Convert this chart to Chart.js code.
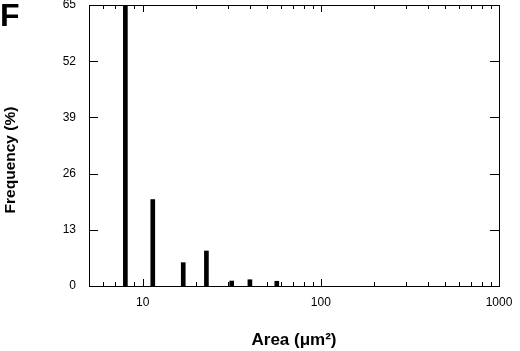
<!DOCTYPE html>
<html lang="en">
<head>
    <meta charset="UTF-8">
    <title>Area distribution</title>
    <script src="https://cdn.jsdelivr.net/npm/chart.js@4/dist/chart.umd.min.js"></script>
    <style>
        html, body { margin: 0; padding: 0; background: #fff; }
        #wrap { width: 520px; height: 351px; position: relative; }
    </style>
</head>
<body>
    <div id="wrap"><canvas id="chart"></canvas></div>
    <script>
        // bin centres (um^2) and frequency (%)
        const areas = [8, 11.4, 16.9, 22.8, 31.6, 40, 56.6];
        const freqs = [65, 20, 5.4, 8.1, 1.15, 1.45, 1.1];
        const yTicks = [0, 13, 26, 39, 52, 65];
        const xMajor = [10, 100, 1000];
        const xMinor = [6, 7, 8, 9, 20, 30, 40, 50, 60, 70, 80, 90, 200, 300, 400, 500, 600, 700, 800, 900];

        const font = '"Liberation Sans", Arial, sans-serif';

        // frame + inward tick marks on all four sides, panel letter, y title
        const framePlugin = {
            id: 'frame',
            afterDraw(chart) {
                const { ctx, chartArea: a, scales } = chart;
                ctx.save();
                ctx.strokeStyle = '#000';
                ctx.lineWidth = 1;
                ctx.strokeRect(a.left + 0.5, a.top + 0.5, a.right - a.left, a.bottom - a.top);
                ctx.beginPath();
                const xt = (v, len) => {
                    const px = Math.round(scales.x.getPixelForValue(v)) + 0.5;
                    ctx.moveTo(px, a.bottom); ctx.lineTo(px, a.bottom - len);
                    ctx.moveTo(px, a.top); ctx.lineTo(px, a.top + len);
                };
                xMajor.forEach(v => xt(v, 7));
                xMinor.forEach(v => xt(v, 4));
                yTicks.slice(1, -1).forEach(v => {
                    const py = Math.round(scales.y.getPixelForValue(v)) + 0.5;
                    ctx.moveTo(a.left, py); ctx.lineTo(a.left + 9, py);
                    ctx.moveTo(a.right, py); ctx.lineTo(a.right - 9, py);
                });
                ctx.stroke();

                ctx.fillStyle = '#000';
                ctx.font = 'bold 32px ' + font;
                ctx.textBaseline = 'top';
                ctx.fillText('F', 0, 1);

                ctx.translate(11, 160);
                ctx.rotate(-Math.PI / 2);
                ctx.font = 'bold 15.5px ' + font;
                ctx.textAlign = 'center';
                ctx.textBaseline = 'middle';
                ctx.fillText('Frequency (%)', 0, 0);
                ctx.restore();
            }
        };

        new Chart(document.getElementById('chart'), {
            type: 'bar',
            data: {
                datasets: [{
                    data: areas.map((a, i) => ({ x: a, y: freqs[i] })),
                    backgroundColor: '#000',
                    barThickness: 4
                }]
            },
            options: {
                responsive: true,
                maintainAspectRatio: false,
                animation: false,
                layout: { padding: { top: 5, right: 21, left: 0, bottom: 0 } },
                plugins: { legend: { display: false }, tooltip: { enabled: false } },
                scales: {
                    x: {
                        type: 'logarithmic',
                        min: 5,
                        max: 1000,
                        grid: { display: false },
                        border: { display: false },
                        afterBuildTicks(scale) {
                            scale.ticks = xMajor.map(v => ({ value: v }));
                        },
                        afterFit(scale) {
                            scale.height = 65;
                            scale.paddingLeft = 0;
                            scale.paddingRight = 0;
                        },
                        ticks: {
                            color: '#000',
                            padding: 1,
                            maxRotation: 0,
                            autoSkip: false,
                            font: { family: font, size: 12 },
                            callback: v => String(v)
                        },
                        title: {
                            display: true,
                            text: 'Area (\u03bcm\u00b2)',
                            color: '#000',
                            font: { family: font, size: 17, weight: 'bold' },
                            padding: { top: 0, bottom: 0 }
                        }
                    },
                    y: {
                        min: 0,
                        max: 65,
                        grid: { display: false },
                        border: { display: false },
                        afterBuildTicks(scale) {
                            scale.ticks = yTicks.map(v => ({ value: v }));
                        },
                        afterFit(scale) {
                            scale.width = 89;
                            scale.paddingTop = 0;
                            scale.paddingBottom = 0;
                        },
                        ticks: {
                            color: '#000',
                            padding: 5,
                            font: { family: font, size: 12 }
                        }
                    }
                }
            },
            plugins: [framePlugin]
        });
    </script>
</body>
</html>
